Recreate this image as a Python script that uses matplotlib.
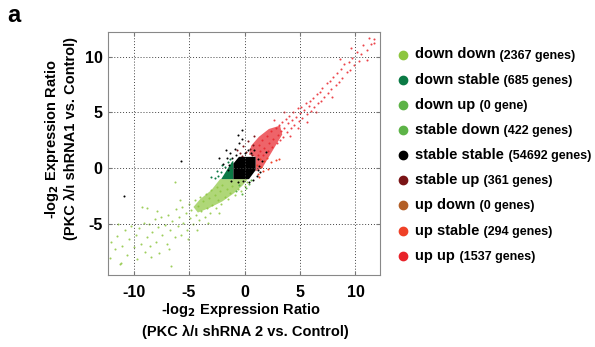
import matplotlib.pyplot as plt
from matplotlib.patches import Polygon

plt.rcParams['font.family'] = ['Liberation Sans', 'DejaVu Sans']
plt.rcParams['font.weight'] = 'bold'
plt.rcParams['axes.unicode_minus'] = False

# legend entries
categories = ['down down', 'down stable', 'down up', 'stable down', 'stable stable',
              'stable up', 'up down', 'up stable', 'up up']
counts = ['(2367 genes)', '(685 genes)', '(0 gene)', '(422 genes)', '(54692 genes)',
          '(361 genes)', '(0 genes)', '(294 genes)', '(1537 genes)']
colors = ['#8dc63f', '#0b7a45', '#5db347', '#5db347', '#000000',
          '#7a1416', '#b35f27', '#ef4127', '#e8232a']

# dense cores (x, y outlines)
ss_core_x = [-1.0, -1.0, -0.5, 1.0, 1.0, 0.4]
ss_core_y = [-1.0, 0.4, 1.0, 1.0, -0.2, -1.0]
ds_core_x = [-1.0, -2.1, -1.6, -1.1, -1.0]
ds_core_y = [-1.0, -1.0, -0.2, 0.6, 0.6]
dd_core_x = [-1.0, 0.3, -0.2, -1.0, -2.0, -3.2, -4.2, -4.6, -4.0, -3.0, -2.2]
dd_core_y = [-1.0, -1.0, -1.6, -2.3, -3.0, -3.6, -4.0, -3.5, -2.8, -2.0, -1.0]
uu_core_x = [1.0, 1.0, 0.4, 0.6, 1.3, 2.2, 3.2, 3.4, 2.8, 2.2, 1.6]
uu_core_y = [-0.3, 1.0, 1.2, 2.0, 2.8, 3.5, 3.8, 3.0, 2.0, 1.0, 0.0]

# sparse points
dd_x = [-12.0, -11.7, -11.5, -11.2, -11.0, -10.8, -10.6, -10.4, -10.2, -10.0, -9.8, -9.7,
        -9.5, -9.3, -9.1, -9.0, -8.8, -8.6, -8.5, -8.3, -8.1, -8.0, -7.8, -7.7, -7.5, -7.4,
        -7.2, -7.0, -6.9, -6.7, -6.6, -6.5, -6.3, -6.2, -6.0, -5.9, -5.7, -5.6, -5.5, -5.3,
        -5.2, -5.0, -4.9, -4.8, -4.6, -4.5, -4.4, -4.2, -4.1, -4.0, -3.9, -3.7, -3.6, -3.5,
        -3.4, -3.2, -3.1, -3.0, -2.9, -2.7, -2.6, -2.5, -2.4, -2.2, -2.1, -2.0, -1.8, -1.6,
        -1.5, -1.3, -1.1, -0.9, -0.6, -0.3, 0.0, 0.2, -6.3, -8.8, -11.4, -5.8, -7.9, -9.2,
        -6.8, -4.3, -3.3, -2.3, -5.1, -8.4, -12.1, -11.1]
dd_y = [-6.6, -7.3, -6.1, -8.6, -7.0, -5.6, -7.8, -6.4, -5.2, -7.1, -6.0, -8.2,
        -5.4, -6.8, -4.9, -7.5, -6.2, -5.0, -7.0, -5.7, -4.6, -6.6, -5.3, -7.6, -4.4, -6.0,
        -5.1, -6.8, -4.2, -5.6, -8.8, -4.8, -6.2, -3.7, -5.2, -4.4, -6.0, -3.5, -4.9, -4.0,
        -5.6, -3.2, -4.5, -3.8, -5.0, -2.9, -4.2, -3.4, -4.7, -2.6, -3.9, -3.0, -4.4, -2.3,
        -3.6, -2.7, -4.0, -2.0, -3.3, -2.4, -3.6, -1.7, -2.9, -2.1, -3.2, -1.5, -2.6, -1.9,
        -2.8, -2.2, -1.6, -2.4, -1.9, -2.1, -1.6, -1.3, -1.3, -3.6, -5.0, -2.9, -3.9, -3.5,
        -7.3, -5.6, -4.9, -4.0, -6.4, -8.0, -8.1, -8.5]
ds_x = [-2.4, -2.1, -1.8, -2.7, -1.5, -2.0, -1.3, -3.0, -2.5, -1.7]
ds_y = [-0.7, -0.4, 0.1, -0.9, 0.5, 0.3, 0.8, -0.8, -0.3, -0.6]
sd_x = [-0.5, 0.1, -0.2, 0.4, -0.8, 0.6]
sd_y = [-1.5, -1.8, -2.3, -1.4, -2.1, -1.1]
ss_x = [-1.6, -1.3, -0.9, -0.5, -0.2, -0.6, -0.2, 0.3, 0.6, 1.2, 1.3, 1.4, 1.1, 0.8,
        0.4, -0.1, -0.6, -1.2, -1.4, -1.9, -1.1, -0.8, 0.0, 1.6, -2.3, -1.7, -5.7, -10.9,
        1.9, 0.9, -1.5, 1.2]
ss_y = [0.9, 1.3, 1.7, 2.2, 2.6, 3.0, 3.4, 1.6, 1.3, 0.8, 0.2, -0.4, -0.7, -1.1,
        -1.3, -1.2, -1.3, -1.2, 0.3, 0.4, 0.9, 1.2, 1.3, 0.6, 0.9, 1.6, 0.6, -2.5,
        1.4, 1.6, -0.2, -0.2]
su_x = [0.1, -0.4, 0.5, -0.1, 0.7, 0.3, -0.7, 0.8, -0.2, 0.9]
su_y = [1.4, 1.3, 1.7, 2.0, 1.2, 2.4, 1.6, 2.1, 1.1, 2.9]
us_x = [1.2, 1.5, 1.8, 2.1, 1.4, 2.4, 1.7, 2.8, 1.1, 2.0, 3.1, 1.3]
us_y = [-0.5, 0.1, 0.6, -0.1, 0.8, 0.5, -0.3, 0.7, 0.3, 0.9, 0.8, -0.8]
uu_x = [11.7, 11.4, 11.2, 11.0, 10.7, 10.5, 10.3, 10.1, 9.9, 9.7, 9.5, 9.4, 9.2, 9.0,
        8.8, 8.7, 8.5, 8.3, 8.2, 8.0, 7.8, 7.7, 7.5, 7.4, 7.2, 7.0, 6.9, 6.8, 6.6, 6.5,
        6.3, 6.2, 6.0, 5.9, 5.8, 5.6, 5.5, 5.4, 5.2, 5.1, 5.0, 4.9, 4.8, 4.6, 4.5, 4.4,
        4.3, 4.2, 4.0, 3.9, 3.8, 3.7, 3.6, 3.5, 3.4, 3.3, 3.2, 3.1, 3.0, 2.9, 2.8, 2.6,
        2.5, 2.4, 2.2, 2.1, 2.0, 1.8, 1.7, 1.6, 1.4, 1.3, 1.2, 4.1, 4.8, 5.6, 6.4, 3.6,
        2.7, 7.9, 9.6, 8.6, 11.0, 11.7]
uu_y = [11.6, 11.1, 11.7, 10.6, 11.0, 10.2, 9.6, 10.4, 9.2, 9.9, 8.8, 9.5, 8.6, 9.3,
        8.1, 8.9, 7.7, 8.5, 7.4, 8.2, 7.1, 7.8, 6.7, 7.6, 6.4, 7.2, 6.0, 6.8, 5.8, 6.6,
        5.5, 6.3, 5.1, 6.0, 5.6, 4.8, 5.8, 5.2, 4.5, 5.5, 4.9, 4.2, 5.4, 4.6, 3.9, 5.0,
        4.3, 3.6, 4.7, 4.0, 3.2, 4.4, 3.6, 2.8, 4.1, 3.3, 2.5, 3.9, 3.0, 2.2, 3.6, 2.6,
        1.9, 3.3, 2.2, 1.5, 2.9, 1.8, 1.2, 2.5, 1.5, 2.1, 1.2, 2.9, 3.6, 4.1, 5.0, 5.0,
        4.3, 6.4, 10.8, 9.8, 9.7, 11.2]

fig = plt.figure(figsize=(5.95, 3.47), dpi=100)
ax = fig.add_axes([0.1815, 0.2075, 0.457, 0.7003])

# dense cores first, sparse speckle on top, black cluster last
ax.add_patch(Polygon(list(zip(dd_core_x, dd_core_y)), closed=True,
                     facecolor=colors[0], edgecolor='none', alpha=0.7))
ax.add_patch(Polygon(list(zip(uu_core_x, uu_core_y)), closed=True,
                     facecolor=colors[8], edgecolor='none', alpha=0.7))
pt = dict(s=2.2, linewidths=0)
ax.scatter(dd_x, dd_y, color=colors[0], alpha=0.85, **pt)
ax.scatter(sd_x, sd_y, color=colors[3], **pt)
ax.scatter(uu_x, uu_y, color=colors[8], alpha=0.85, **pt)
ax.scatter(us_x, us_y, color=colors[7], **pt)
ax.scatter(su_x, su_y, color=colors[5], **pt)
ax.scatter(ds_x, ds_y, color=colors[1], **pt)
ax.add_patch(Polygon(list(zip(ds_core_x, ds_core_y)), closed=True,
                     facecolor=colors[1], edgecolor='none'))
ax.add_patch(Polygon(list(zip(ss_core_x, ss_core_y)), closed=True,
                     facecolor='black', edgecolor='none'))
ax.scatter(ss_x, ss_y, color='black', **pt)

ax.set_xlim(-12.3, 12.2)
ax.set_ylim(-9.6, 12.2)
ax.set_xticks([-10, -5, 0, 5, 10])
ax.set_yticks([-5, 0, 5, 10])
ax.tick_params(labelsize=11.5, direction='in', length=3, color='#777777',
               top=True, right=True)
ax.tick_params(axis='x', pad=7)
ax.tick_params(axis='y', pad=4)
ax.grid(True, linestyle=(0, (1, 2)), color='#444444', linewidth=0.7)
for s in ax.spines.values():
    s.set_color('#888888')
    s.set_linewidth(0.8)

fig.text(0.405, 0.107, '-log$_\\mathbf{2}$ Expression Ratio', ha='center', va='center',
         fontsize=10.5)
fig.text(0.413, 0.044, '(PKC λ/ι shRNA 2 vs. Control)', ha='center', va='center',
         fontsize=10.5)
fig.text(0.087, 0.6, '-log$_\\mathbf{2}$ Expression Ratio', ha='center', va='center',
         rotation=90, fontsize=10.5)
fig.text(0.12, 0.6, '(PKC λ/ι shRNA1 vs. Control)', ha='center', va='center',
         rotation=90, fontsize=10.5)
fig.text(0.012, 0.955, 'a', ha='left', va='center', fontsize=17)

# legend drawn by hand
row_y = [54.5, 79.7, 105, 130, 155, 180, 205.5, 231, 256]
for name, cnt, col, py in zip(categories, counts, colors, row_y):
    fy = 1 - py / 347
    fig.lines.append(plt.Line2D([403 / 595], [fy], transform=fig.transFigure,
                                marker='o', markersize=6, color=col, linestyle='none'))
    t = fig.text(415 / 595, fy, name, ha='left', va='center', fontsize=10.5)
    ax.annotate(' ' + cnt, xy=(1, 0), xycoords=t, xytext=(0.5, 0),
                textcoords='offset points', fontsize=9, ha='left', va='bottom',
                annotation_clip=False)

fig.savefig('out.png', dpi=100)
